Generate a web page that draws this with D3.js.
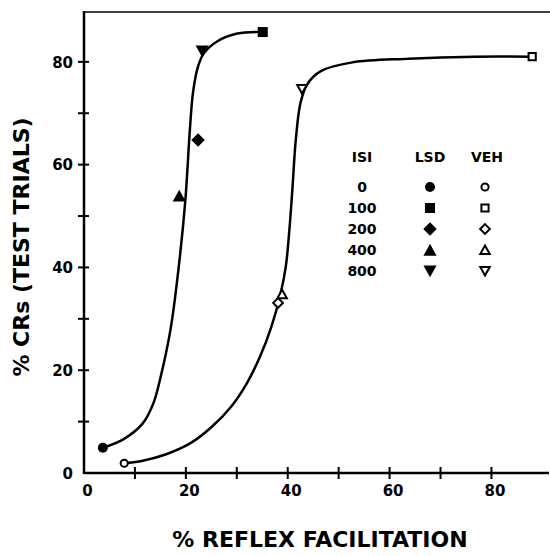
<!DOCTYPE html>
<html>
<head>
<meta charset="utf-8">
<script src="https://cdn.jsdelivr.net/npm/d3@7"></script>
<style>
  html, body { margin: 0; padding: 0; background: #fff; }
  svg { display: block; }
  text { font-family: "DejaVu Sans", sans-serif; font-weight: bold; fill: #000; }
</style>
</head>
<body>
<svg id="chart" width="550" height="556"></svg>
<script>
// ---- data ----
const isiLabels = ["0", "100", "200", "400", "800"];
const shapes = ["circle", "square", "diamond", "triangleUp", "triangleDown"];
const lsdX = [3.7, 35.1, 22.4, 18.7, 23.2];
const lsdY = [4.9, 85.8, 64.8, 53.9, 82.1];
const vehX = [7.9, 88.0, 38.1, 38.9, 42.8];
const vehY = [1.9, 81.0, 33.1, 34.8, 74.7];

// fitted curves
const lsdCurveX = [3.7, 7.8, 11.5, 13.6, 15.0, 17.0, 18.6, 19.9, 20.8, 21.4, 22.3, 23.5, 26.2, 30.1, 35.1];
const lsdCurveY = [4.9, 6.6, 9.6, 13.5, 18.5, 28.0, 40.1, 53.1, 67.0, 74.0, 78.8, 81.6, 84.0, 85.5, 85.8];
const vehCurveX = [7.9, 11.1, 16.0, 20.9, 25.0, 28.8, 32.0, 34.5, 36.8, 38.5, 39.6, 40.3, 40.9, 41.6, 42.5, 43.8, 46.5, 52.7, 63.7, 76.8, 88.0];
const vehCurveY = [1.9, 2.3, 3.6, 5.8, 8.9, 12.8, 17.5, 22.5, 28.5, 34.5, 40.0, 47.0, 55.0, 65.0, 72.0, 75.6, 78.2, 79.9, 80.6, 81.0, 81.0];

const xTicks = [0, 10, 20, 30, 40, 50, 60, 70, 80];
const xTickLabels = ["0", "", "20", "", "40", "", "60", "", "80"];
const yTicks = [0, 10, 20, 30, 40, 50, 60, 70, 80];
const yTickLabels = ["0", "", "20", "", "40", "", "60", "", "80"];

const xTitle = "% REFLEX FACILITATION";
const yTitle = "% CRs (TEST TRIALS)";
const legendHeaders = ["ISI", "LSD", "VEH"];

// ---- layout ----
const svg = d3.select("#chart");
const pLeft = 84, pRight = 549, pTop = 12, pBottom = 473;
const x = d3.scaleLinear().domain([0, 91.3]).range([pLeft, pRight]);
const y = d3.scaleLinear().domain([0, 89.7]).range([pBottom, pTop]);

function markerPath(shape, r) {
  const p = d3.path();
  if (shape === "circle") {
    p.moveTo(r, 0); p.arc(0, 0, r, 0, 2 * Math.PI);
  } else if (shape === "square") {
    p.rect(-r, -r, 2 * r, 2 * r);
  } else if (shape === "diamond") {
    const d = r * 1.35;
    p.moveTo(0, -d); p.lineTo(d, 0); p.lineTo(0, d); p.lineTo(-d, 0); p.closePath();
  } else if (shape === "triangleUp") {
    const h = r * 1.25;
    p.moveTo(0, -h); p.lineTo(h * 1.05, h * 0.9); p.lineTo(-h * 1.05, h * 0.9); p.closePath();
  } else if (shape === "triangleDown") {
    const h = r * 1.25;
    p.moveTo(0, h); p.lineTo(h * 1.05, -h * 0.9); p.lineTo(-h * 1.05, -h * 0.9); p.closePath();
  }
  return p.toString();
}

// frame: top line
svg.append("line")
  .attr("x1", pLeft).attr("x2", pRight + 1).attr("y1", pTop).attr("y2", pTop)
  .attr("stroke", "#000").attr("stroke-width", 1.5);

// axes
const xAxis = d3.axisBottom(x).tickValues(xTicks)
  .tickFormat((d, i) => xTickLabels[i]).tickSizeInner(0).tickSizeOuter(0).tickPadding(12);
const gx = svg.append("g").attr("transform", `translate(0,${pBottom})`).call(xAxis);
gx.select(".domain").remove();
gx.selectAll(".tick line").remove();
gx.selectAll(".tick text").attr("font-size", 15).attr("dx", 3)
  .style("font-family", "'DejaVu Sans', sans-serif").style("font-weight", "bold");

const yAxis = d3.axisLeft(y).tickValues(yTicks)
  .tickFormat((d, i) => yTickLabels[i]).tickSizeInner(0).tickSizeOuter(0).tickPadding(11);
const gy = svg.append("g").attr("transform", `translate(${pLeft},0)`).call(yAxis);
gy.select(".domain").remove();
gy.selectAll(".tick line").remove();
gy.selectAll(".tick text").attr("font-size", 15).attr("dy", "0.35em")
  .style("font-family", "'DejaVu Sans', sans-serif").style("font-weight", "bold");

// axis lines
svg.append("line").attr("x1", pLeft).attr("x2", pRight).attr("y1", pBottom).attr("y2", pBottom)
  .attr("stroke", "#000").attr("stroke-width", 2.5);
svg.append("line").attr("x1", pLeft).attr("x2", pLeft).attr("y1", pTop - 1).attr("y2", pBottom + 1)
  .attr("stroke", "#000").attr("stroke-width", 2.5);

// crossing ticks
svg.selectAll(".xt").data(xTicks.filter(d => d > 0)).enter().append("line")
  .attr("x1", d => x(d)).attr("x2", d => x(d))
  .attr("y1", pBottom - 6).attr("y2", pBottom + 6)
  .attr("stroke", "#000").attr("stroke-width", 2);
svg.selectAll(".yt").data(yTicks.filter(d => d > 0)).enter().append("line")
  .attr("x1", pLeft - 6).attr("x2", pLeft + 5)
  .attr("y1", d => y(d)).attr("y2", d => y(d))
  .attr("stroke", "#000").attr("stroke-width", 2);

// curves
const line = d3.line().x(d => x(d[0])).y(d => y(d[1])).curve(d3.curveCatmullRom.alpha(0.5));
svg.append("path").datum(d3.zip(lsdCurveX, lsdCurveY)).attr("d", line)
  .attr("fill", "none").attr("stroke", "#000").attr("stroke-width", 2.5);
svg.append("path").datum(d3.zip(vehCurveX, vehCurveY)).attr("d", line)
  .attr("fill", "none").attr("stroke", "#000").attr("stroke-width", 2.5);

// data markers
shapes.forEach((s, i) => {
  svg.append("path").attr("d", markerPath(s, 5))
    .attr("transform", `translate(${x(lsdX[i])},${y(lsdY[i])})`)
    .attr("fill", "#000");
  svg.append("path").attr("d", markerPath(s, 3.6))
    .attr("transform", `translate(${x(vehX[i])},${y(vehY[i])})`)
    .attr("fill", "#fff").attr("stroke", "#000").attr("stroke-width", 2);
});

// legend
const legCols = [362, 430, 487];
legendHeaders.forEach((h, i) => {
  svg.append("text").attr("x", legCols[i]).attr("y", 157).attr("dy", "0.36em")
    .attr("text-anchor", "middle").attr("font-size", 14).text(h);
});
isiLabels.forEach((lab, i) => {
  const yy = 187 + i * 21;
  svg.append("text").attr("x", legCols[0]).attr("y", yy).attr("dy", "0.36em")
    .attr("text-anchor", "middle").attr("font-size", 14).text(lab);
  svg.append("path").attr("d", markerPath(shapes[i], 5))
    .attr("transform", `translate(${legCols[1]},${yy})`).attr("fill", "#000");
  svg.append("path").attr("d", markerPath(shapes[i], 3.6))
    .attr("transform", `translate(${legCols[2] - 2},${yy})`)
    .attr("fill", "#fff").attr("stroke", "#000").attr("stroke-width", 2);
});

// titles
svg.append("text").attr("x", 320).attr("y", 539).attr("dy", "0.36em")
  .attr("text-anchor", "middle").attr("font-size", 22).text(xTitle);
svg.append("text").attr("transform", "translate(21,247) rotate(-90)").attr("dy", "0.36em")
  .attr("text-anchor", "middle").attr("font-size", 22).text(yTitle);
</script>
</body>
</html>
